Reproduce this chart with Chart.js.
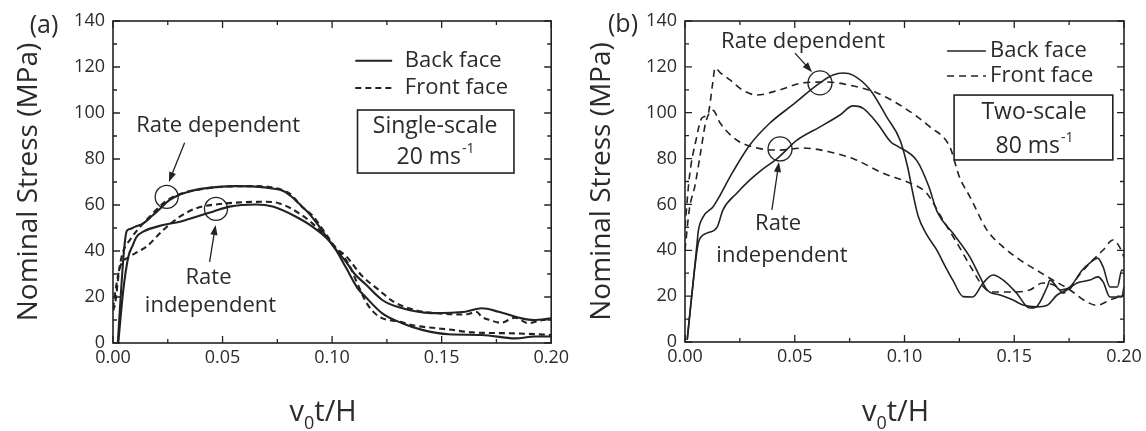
<!DOCTYPE html>
<html lang="en">
<head>
<meta charset="UTF-8">
<title>Nominal stress vs v0t/H</title>
<script src="https://cdn.jsdelivr.net/npm/chart.js@4.4.1/dist/chart.umd.min.js"></script>
<style>
  html, body { margin: 0; padding: 0; background: #fff; }
  #wrap { position: relative; width: 1146px; height: 431px; }
  .panel { position: absolute; top: 0; width: 573px; height: 431px; }
</style>
</head>
<body>
<div id="wrap">
  <div class="panel" style="left:0"><canvas id="chartA"></canvas></div>
  <div class="panel" style="left:573px"><canvas id="chartB"></canvas></div>
</div>
<script>
// ---- data: [v0t/H, stress MPa] ----
// (a) single-scale, 20 m/s
const aBackDep = [[0.0022,0],[0.0035,20],[0.005,40],[0.0062,48.5],[0.0075,49.5],[0.010,50.5],[0.0138,52],[0.018,55.4],[0.0199,57],[0.0259,62.2],[0.0305,64.5],[0.0345,65.8],[0.040,67],[0.048,67.9],[0.056,68.2],[0.065,68],[0.0727,67.2],[0.078,66],[0.081,64],[0.085,60.5],[0.089,56.8],[0.0935,51.5],[0.0976,46],[0.101,41.5],[0.1062,35.5],[0.1103,30],[0.1153,25.5],[0.1229,18.7],[0.1305,15.5],[0.1456,13],[0.1608,13.6],[0.1683,15.1],[0.176,13.6],[0.1865,10.7],[0.192,10],[0.2,10.7]];
const aBackInd = [[0.0024,0],[0.0047,23],[0.007,37.5],[0.0088,42],[0.0108,46.2],[0.0138,48.4],[0.0229,51.3],[0.0305,52.7],[0.038,54.9],[0.0456,57.1],[0.0532,59.3],[0.0653,60.2],[0.0729,59.3],[0.0835,54.9],[0.091,50.6],[0.1,43],[0.1062,33],[0.1115,24],[0.1153,20],[0.1229,12.9],[0.132,8.6],[0.1411,5.7],[0.1532,3.8],[0.1683,3.5],[0.1835,2],[0.1926,2.8],[0.2,2.8]];
const aFrontDep = [[0,14],[0.001,17.3],[0.003,33],[0.0047,40],[0.0077,44.8],[0.011,49],[0.0153,53.5],[0.0229,60.7],[0.0274,63.5],[0.033,65.5],[0.038,66.5],[0.051,68],[0.065,68.2],[0.073,67.6],[0.081,64.7],[0.086,59.5],[0.091,55.4],[0.0976,46.8],[0.1015,41.5],[0.1062,38],[0.1138,29],[0.1214,23],[0.128,18],[0.138,14.3],[0.147,13],[0.1608,12.4],[0.166,13.5],[0.1683,11.4],[0.172,10],[0.177,8.8],[0.1835,11],[0.1895,8.6],[0.195,9.8],[0.2,10.3]];
const aFrontInd = [[0,15],[0.0015,25],[0.0032,33],[0.0077,37.5],[0.011,39.5],[0.0153,41.9],[0.0229,49.1],[0.0305,54.9],[0.038,58.6],[0.0486,60.4],[0.0683,61.4],[0.0759,60.7],[0.085,56.4],[0.091,52],[0.1,43.3],[0.1077,34],[0.111,27],[0.116,17],[0.1214,11.5],[0.131,9.2],[0.138,7.5],[0.147,6.5],[0.153,5.9],[0.164,4.6],[0.1835,4.2],[0.2,3.5]];

// (b) two-scale, 80 m/s
const bBackDep = [[0.001,0.9],[0.003,19.6],[0.0055,43],[0.006,48],[0.0082,54.5],[0.0128,59],[0.016,64],[0.0205,72],[0.0296,86],[0.0387,95.5],[0.049,103.4],[0.0615,113],[0.0674,116.4],[0.072,117.3],[0.0765,116.4],[0.0843,110],[0.092,98],[0.098,88],[0.1015,76],[0.104,64],[0.1062,55],[0.11,47],[0.1148,40],[0.118,34],[0.122,27],[0.1267,19.8],[0.131,19.6],[0.1358,25.7],[0.1403,29.2],[0.145,27],[0.151,21.4],[0.157,14.8],[0.160,15.3],[0.165,24],[0.1663,27],[0.171,22.7],[0.1754,24],[0.181,31.4],[0.1845,34.5],[0.188,36.6],[0.1905,32.7],[0.1936,24],[0.197,24],[0.199,31.4],[0.2,31]];
const bBackInd = [[0.001,0.9],[0.003,19.6],[0.006,43],[0.0075,46],[0.010,47.5],[0.0146,50],[0.0173,57.6],[0.0237,65],[0.0296,70.7],[0.0354,75.4],[0.042,80],[0.051,88],[0.0615,93.8],[0.0706,99],[0.0765,103],[0.081,102],[0.0875,95.5],[0.094,87],[0.0966,85.5],[0.1057,79],[0.111,68],[0.1148,57],[0.122,47.5],[0.1298,37],[0.1344,28.4],[0.1376,22.7],[0.1435,20.5],[0.1494,18.3],[0.154,16.1],[0.160,15.3],[0.165,16],[0.1695,20.5],[0.174,22.7],[0.1786,25.7],[0.1845,27],[0.188,28.4],[0.1905,26.2],[0.1936,19.6],[0.199,19.6],[0.2,24]];
const bFrontDep = [[0,50],[0.002,72],[0.005,88],[0.0077,97.7],[0.0105,99.5],[0.0125,112],[0.0137,119.5],[0.016,117.5],[0.0205,114.3],[0.026,110],[0.0328,107.7],[0.0433,110],[0.0538,113],[0.0647,113.4],[0.075,112],[0.0875,108.6],[0.0993,102.5],[0.1116,93.8],[0.1207,85],[0.125,72],[0.13,63],[0.1376,48.8],[0.145,41.4],[0.1526,35.8],[0.160,31.4],[0.1677,27],[0.1754,22.7],[0.183,17.5],[0.1877,16],[0.1936,18.3],[0.2,20.5]];
const bFrontInd = [[0,40],[0.002,58],[0.0045,68],[0.007,82],[0.0095,96],[0.0128,101],[0.016,95.5],[0.0237,88],[0.0328,84.6],[0.0433,83.7],[0.0538,84.6],[0.066,82.9],[0.078,79.4],[0.090,73.7],[0.1025,69.3],[0.110,65],[0.1175,53.2],[0.125,41.4],[0.131,31.4],[0.136,24],[0.140,21.8],[0.148,21.8],[0.157,22.7],[0.163,25.7],[0.1695,24],[0.172,21.4],[0.175,22.7],[0.179,28.4],[0.1845,34.5],[0.1905,40.1],[0.195,44.5],[0.198,41.4],[0.2,37]];

const xTicks = [0, 0.05, 0.10, 0.15, 0.20];
const yTicks = [0, 20, 40, 60, 80, 100, 120, 140];

const FONT = "'Open Sans', 'Noto Sans', sans-serif";
const INK = '#222';
const TXT = '#2b2b2b';

function pts(arr) { return arr.map(p => ({ x: p[0], y: p[1] })); }

function txt(ctx, s, x, y, size, align) {
  ctx.font = size + 'px ' + FONT;
  ctx.textAlign = align || 'center';
  ctx.textBaseline = 'middle';
  ctx.fillText(s, x, y);
}

function supText(ctx, base, sup, cx, cy, size) {
  ctx.font = size + 'px ' + FONT;
  const w1 = ctx.measureText(base).width;
  const ss = Math.round(size * 0.6);
  ctx.font = ss + 'px ' + FONT;
  const w2 = ctx.measureText(sup).width;
  const x0 = cx - (w1 + w2) / 2;
  txt(ctx, base, x0, cy, size, 'left');
  txt(ctx, sup, x0 + w1 + 1, cy - size * 0.36, ss, 'left');
}

function arrow(ctx, x1, y1, x2, y2) {
  const ang = Math.atan2(y2 - y1, x2 - x1);
  const L = 10, W = 3.6;
  ctx.beginPath();
  ctx.moveTo(x1, y1);
  ctx.lineTo(x2 - Math.cos(ang) * L * 0.8, y2 - Math.sin(ang) * L * 0.8);
  ctx.stroke();
  ctx.beginPath();
  ctx.moveTo(x2, y2);
  ctx.lineTo(x2 - Math.cos(ang) * L - Math.sin(ang) * W, y2 - Math.sin(ang) * L + Math.cos(ang) * W);
  ctx.lineTo(x2 - Math.cos(ang) * L + Math.sin(ang) * W, y2 - Math.sin(ang) * L - Math.cos(ang) * W);
  ctx.closePath();
  ctx.fill();
}

// frame, inward ticks, annotations, legend, x title
const decoPlugin = {
  id: 'deco',
  afterDatasetsDraw(chart, args, o) {
    const { ctx, chartArea: a, scales: { x, y } } = chart;
    const X = v => x.getPixelForValue(v), Y = v => y.getPixelForValue(v);
    ctx.save();
    ctx.strokeStyle = INK;
    ctx.fillStyle = INK;
    ctx.lineWidth = 1.6;
    ctx.strokeRect(a.left, a.top, a.right - a.left, a.bottom - a.top);

    // ticks on all four sides, pointing in
    ctx.lineWidth = 1.3;
    ctx.beginPath();
    for (let i = 0; i < xTicks.length; i++) {
      const px = X(xTicks[i]);
      ctx.moveTo(px, a.bottom); ctx.lineTo(px, a.bottom - 7);
      ctx.moveTo(px, a.top); ctx.lineTo(px, a.top + 7);
      if (i < xTicks.length - 1) {
        const pm = X((xTicks[i] + xTicks[i + 1]) / 2);
        ctx.moveTo(pm, a.bottom); ctx.lineTo(pm, a.bottom - 4);
        ctx.moveTo(pm, a.top); ctx.lineTo(pm, a.top + 4);
      }
    }
    for (let i = 0; i < yTicks.length; i++) {
      const py = Y(yTicks[i]);
      ctx.moveTo(a.left, py); ctx.lineTo(a.left + 7, py);
      ctx.moveTo(a.right, py); ctx.lineTo(a.right - 7, py);
      if (i < yTicks.length - 1) {
        const pm = Y((yTicks[i] + yTicks[i + 1]) / 2);
        ctx.moveTo(a.left, pm); ctx.lineTo(a.left + 4, pm);
        ctx.moveTo(a.right, pm); ctx.lineTo(a.right - 4, pm);
      }
    }
    ctx.stroke();

    // legend
    const lg = o.legend;
    ctx.lineWidth = o.lw;
    ctx.beginPath();
    ctx.moveTo(X(lg.x1), Y(lg.ySolid)); ctx.lineTo(X(lg.x2), Y(lg.ySolid));
    ctx.stroke();
    ctx.setLineDash(o.dash);
    ctx.beginPath();
    ctx.moveTo(X(lg.x1), Y(lg.yDash)); ctx.lineTo(X(lg.x2), Y(lg.yDash));
    ctx.stroke();
    ctx.setLineDash([]);
    ctx.fillStyle = TXT;
    txt(ctx, 'Back face', X(lg.tx), Y(lg.ySolid), 22, 'left');
    txt(ctx, 'Front face', X(lg.tx), Y(lg.yDash), 22, 'left');

    // condition box
    const bx = o.box;
    ctx.lineWidth = 1.6;
    ctx.strokeRect(X(bx.x1), Y(bx.y1), X(bx.x2) - X(bx.x1), Y(bx.y2) - Y(bx.y1));
    txt(ctx, bx.l1, X(bx.cx), Y(bx.l1y), 23);
    supText(ctx, bx.l2, '-1', X(bx.cx), Y(bx.l2y), 23);

    // circles, arrows, labels
    ctx.lineWidth = 1.3;
    o.circles.forEach(c => {
      ctx.beginPath();
      ctx.arc(X(c[0]), Y(c[1]), o.r, 0, Math.PI * 2);
      ctx.stroke();
    });
    ctx.fillStyle = INK;
    o.arrows.forEach(r => arrow(ctx, X(r[0]), Y(r[1]), X(r[2]), Y(r[3])));
    ctx.fillStyle = TXT;
    o.labels.forEach(l => txt(ctx, l[0], X(l[1]), Y(l[2]), 22));

    // panel tag and x title (v0t/H with subscript)
    txt(ctx, o.tag, o.tagX, o.tagY, 25);
    const cx = (a.left + a.right) / 2 - 9;
    const by = 421;
    ctx.font = '29px ' + FONT;
    const wv = ctx.measureText('v').width;
    const wr = ctx.measureText('t/H').width;
    ctx.font = '18px ' + FONT;
    const w0 = ctx.measureText('0').width;
    let x0 = cx - (wv + w0 + wr) / 2;
    ctx.textAlign = 'left';
    ctx.textBaseline = 'alphabetic';
    ctx.font = '29px ' + FONT;
    ctx.fillText('v', x0, by);
    ctx.font = '18px ' + FONT;
    ctx.fillText('0', x0 + wv, by + 8);
    ctx.font = '29px ' + FONT;
    ctx.fillText('t/H', x0 + wv + w0, by);
    ctx.restore();
  }
};

function makeChart(id, series, deco, yW, xH, padRight) {
  const ds = series.map(s => ({
    data: pts(s.d),
    borderColor: INK,
    borderWidth: deco.lw,
    borderDash: s.dashed ? deco.dash : [],
    pointRadius: 0,
    fill: false,
    cubicInterpolationMode: 'monotone'
  }));
  return new Chart(document.getElementById(id), {
    type: 'line',
    data: { datasets: ds },
    options: {
      responsive: true,
      maintainAspectRatio: false,
      animation: false,
      layout: { autoPadding: false, padding: { left: 0, top: 21, right: padRight, bottom: 0 } },
      plugins: { legend: { display: false }, tooltip: { enabled: false }, deco: deco },
      scales: {
        x: {
          type: 'linear', min: 0, max: 0.2,
          afterBuildTicks: s => { s.ticks = xTicks.map(v => ({ value: v })); },
          afterFit: s => { s.height = xH; },
          grid: { display: false, drawTicks: false },
          border: { display: false },
          ticks: { color: TXT, font: { size: 18, family: FONT }, padding: 4, maxRotation: 0,
                   callback: v => Number(v).toFixed(2) }
        },
        y: {
          type: 'linear', min: 0, max: 140,
          afterBuildTicks: s => { s.ticks = yTicks.map(v => ({ value: v })); },
          afterFit: s => { s.width = yW; },
          grid: { display: false, drawTicks: false },
          border: { display: false },
          ticks: { color: TXT, font: { size: 18, family: FONT }, padding: 8 },
          title: { display: true, text: 'Nominal Stress (MPa)', color: TXT,
                   font: { size: 28, family: FONT }, padding: { top: 12, bottom: 0 } }
        }
      }
    },
    plugins: [decoPlugin]
  });
}

makeChart('chartA', [
  { d: aBackDep }, { d: aBackInd },
  { d: aFrontDep, dashed: true }, { d: aFrontInd, dashed: true }
], {
  lw: 2.1, dash: [6, 4], r: 11.5,
  tag: '(a)', tagX: 44, tagY: 26,
  legend: { x1: 0.1106, x2: 0.1274, tx: 0.1332, ySolid: 122.7, yDash: 110.9 },
  box: { x1: 0.1116, x2: 0.183, y1: 101.3, y2: 73.9, cx: 0.147, l1: 'Single-scale', l1y: 94.3, l2: '20 ms', l2y: 80.7 },
  circles: [[0.0245, 63.5], [0.047, 58.3]],
  arrows: [[0.0327, 87.1, 0.0255, 70], [0.0441, 35.3, 0.0468, 51.3]],
  labels: [['Rate dependent', 0.048, 94.6], ['Rate', 0.0436, 28.3], ['independent', 0.0445, 16.1]]
}, 113, 88, 20);

makeChart('chartB', [
  { d: bBackDep }, { d: bBackInd },
  { d: bFrontDep, dashed: true }, { d: bFrontInd, dashed: true }
], {
  lw: 1.6, dash: [7, 5], r: 12,
  tag: '(b)', tagX: 50, tagY: 25,
  legend: { x1: 0.1194, x2: 0.1371, tx: 0.139, ySolid: 126.9, yDash: 116 },
  box: { x1: 0.1226, x2: 0.1949, y1: 107.7, y2: 79.4, cx: 0.159, l1: 'Two-scale', l1y: 99.9, l2: '80 ms', l2y: 85.5 },
  circles: [[0.0615, 113], [0.0433, 84.2]],
  arrows: [[0.0501, 126, 0.0579, 117.7], [0.0396, 57.6, 0.0428, 78.5]],
  labels: [['Rate dependent', 0.0538, 130.8], ['Rate', 0.0424, 51.5], ['independent', 0.0442, 37.5]]
}, 112, 89, 22);
</script>
</body>
</html>
